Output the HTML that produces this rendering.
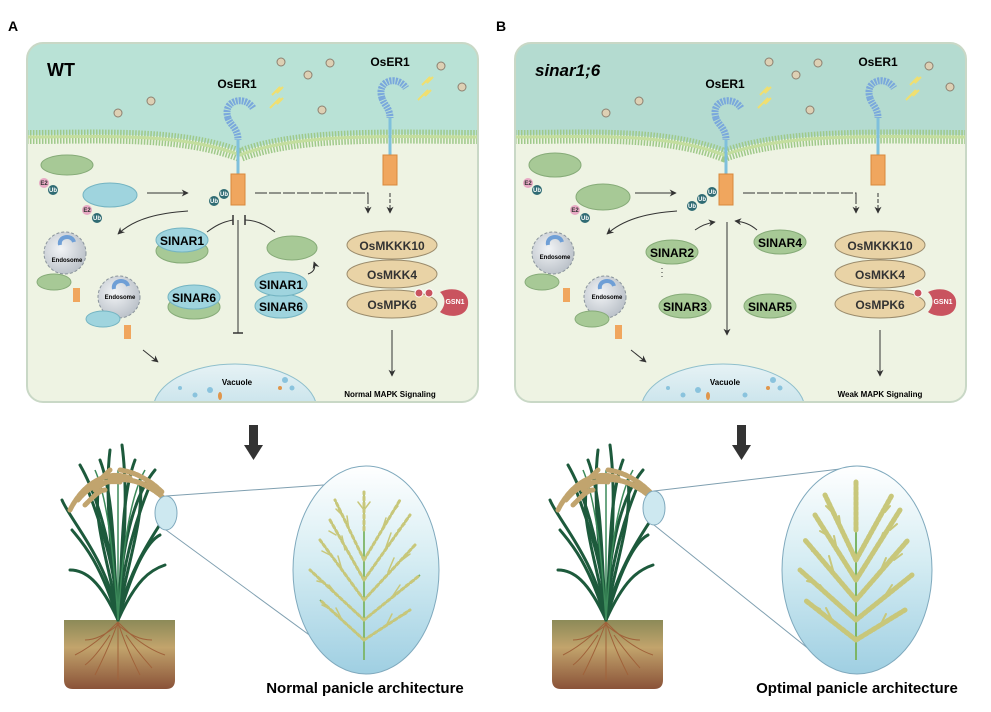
<!DOCTYPE html>
<html><head><meta charset="utf-8"><style>
html,body{margin:0;padding:0;background:#fff;}
svg{display:block;font-family:"Liberation Sans",Arial,sans-serif;}
.b{font-weight:bold;}
</style></head><body>
<svg width="991" height="712" viewBox="0 0 991 712" xmlns="http://www.w3.org/2000/svg">
<defs>
<marker id="ar" viewBox="0 0 10 10" refX="9" refY="5" markerWidth="7" markerHeight="7" orient="auto"><path d="M0,0 L10,5 L0,10 L3,5z" fill="#333"/></marker>
<linearGradient id="soil" x1="0" y1="0" x2="0" y2="1"><stop offset="0" stop-color="#8c8a58"/><stop offset="0.4" stop-color="#c2a46c"/><stop offset="1" stop-color="#8a5238"/></linearGradient>
<linearGradient id="lens" x1="0" y1="0" x2="0" y2="1"><stop offset="0" stop-color="#ffffff"/><stop offset="0.45" stop-color="#d6edf3"/><stop offset="1" stop-color="#9fcfe2"/></linearGradient>
<radialGradient id="endo" cx="0.4" cy="0.4" r="0.7"><stop offset="0" stop-color="#f2f4f6"/><stop offset="1" stop-color="#b5bcc4"/></radialGradient>
<linearGradient id="vac" x1="0" y1="0" x2="0" y2="1"><stop offset="0" stop-color="#e6f2f5"/><stop offset="1" stop-color="#a8d3e0"/></linearGradient>
<clipPath id="cA"><rect x="27" y="43" width="451" height="359" rx="16"/></clipPath>
<clipPath id="cB"><rect x="515" y="43" width="451" height="359" rx="16"/></clipPath>
<g id="plant">
<path d="M64,620 H175 V680 Q175,689 166,689 H73 Q64,689 64,680Z" fill="url(#soil)"/>
<g stroke="#a0623a" stroke-width="1" fill="none"><path d="M118,622 C100,640 85,650 75,655"/><path d="M118,622 C135,640 150,650 165,655"/><path d="M118,622 C110,645 100,665 95,675"/><path d="M118,622 C125,645 135,665 140,675"/><path d="M118,622 V680"/><path d="M118,625 C105,635 95,640 85,640"/><path d="M118,625 C130,635 140,640 152,640"/><path d="M110,635 C100,650 92,660 85,665"/><path d="M126,635 C136,650 145,660 152,668"/></g>
<g stroke="#1d5a3c" stroke-width="3" fill="none" stroke-linecap="round">
<path d="M118,620 C115,560 100,500 80,465"/><path d="M118,620 C120,560 130,500 155,470"/><path d="M118,620 C110,540 105,490 110,450"/><path d="M118,620 C125,540 128,490 122,445"/><path d="M118,620 C100,560 80,540 72,530"/><path d="M118,620 C135,560 150,540 160,535"/><path d="M118,620 C112,570 90,520 100,480"/><path d="M118,620 C125,570 145,520 140,480"/>
<path d="M118,620 C108,560 70,520 62,500"/><path d="M118,620 C130,560 165,520 172,505"/><path d="M118,620 C113,560 115,500 100,460"/><path d="M118,620 C123,560 120,500 135,460"/><path d="M118,620 C100,580 85,570 70,570"/><path d="M118,620 C136,580 150,570 165,565"/><path d="M118,620 C116,560 95,510 88,490"/><path d="M118,620 C122,560 140,510 148,490"/></g>
<g stroke="#3c8a5a" stroke-width="1.5" fill="none"><path d="M118,620 C114,560 108,500 95,470"/><path d="M118,620 C122,560 128,500 145,470"/><path d="M118,620 V470"/></g>
<g stroke="#c1a46e" stroke-width="5" fill="none" stroke-linecap="round" stroke-dasharray="4 1.5">
<path d="M70,510 C85,480 110,470 130,478"/><path d="M95,490 C110,475 135,475 160,495"/><path d="M80,495 C95,485 100,480 110,470"/><path d="M78,500 C90,485 105,480 120,482"/><path d="M110,480 C130,478 150,482 165,500"/><path d="M85,505 C95,495 100,490 105,490"/><path d="M120,470 C135,472 150,480 162,492"/></g>
</g>
</defs>

<text x="8" y="31" class="b" font-size="14">A</text>
<text x="496" y="31" class="b" font-size="14">B</text>

<!-- ========== PANEL A ========== -->
<g clip-path="url(#cA)">
<rect x="27" y="43" width="451" height="359" fill="#eef3e3"/>
<path d="M27,43 H478 V135 C400,135 300,130 240,152 C180,130 100,135 27,135 Z" fill="#b9e2d6"/>
<path d="M27,137 C100,137 180,132 240,155 C300,132 400,137 478,137" fill="none" stroke="#9fc98a" stroke-width="14" stroke-dasharray="1.5 1.5"/>
<path d="M27,137 C100,137 180,132 240,155 C300,132 400,137 478,137" fill="none" stroke="#c4de9f" stroke-width="3"/>
<ellipse cx="235" cy="410" rx="82" ry="46" fill="url(#vac)" stroke="#8fbfcc"/>
</g>
<rect x="27" y="43" width="451" height="359" rx="16" fill="none" stroke="#c9d8c6" stroke-width="2"/>
<text x="47" y="76" class="b" font-size="18">WT</text>
<text x="237" y="88" class="b" font-size="12" text-anchor="middle">OsER1</text>
<text x="390" y="66" class="b" font-size="12" text-anchor="middle">OsER1</text>
<g fill="#ddd0b4" stroke="#8c8070" stroke-width="1">
<circle cx="281" cy="62" r="4"/><circle cx="330" cy="63" r="4"/><circle cx="308" cy="75" r="4"/><circle cx="151" cy="101" r="4"/><circle cx="118" cy="113" r="4"/><circle cx="322" cy="110" r="4"/><circle cx="441" cy="66" r="4"/><circle cx="462" cy="87" r="4"/>
</g>
<g stroke="#f0df70" stroke-width="2" fill="none"><path d="M272,95 l8,-8 -3,6 6,-6"/><path d="M270,108 l10,-10 -3,6 6,-6"/><path d="M422,85 l8,-8 -3,6 6,-6"/><path d="M418,100 l10,-10 -3,6 6,-6"/></g>
<path d="M228,118 C222,100 245,95 253,108" fill="none" stroke="#7aa8dc" stroke-width="7" stroke-dasharray="2 1"/>
<path d="M228,118 C230,125 238,128 238,140" fill="none" stroke="#7aa8dc" stroke-width="7" stroke-dasharray="2 1"/>
<line x1="238" y1="140" x2="238" y2="175" stroke="#7fc0dc" stroke-width="3"/>
<rect x="231" y="174" width="14" height="31" fill="#f0a65e" stroke="#d8883c"/>
<path d="M382,98 C376,80 398,75 406,88" fill="none" stroke="#7aa8dc" stroke-width="7" stroke-dasharray="2 1"/>
<path d="M382,98 C384,105 390,108 390,118" fill="none" stroke="#7aa8dc" stroke-width="7" stroke-dasharray="2 1"/>
<line x1="390" y1="118" x2="390" y2="155" stroke="#7fc0dc" stroke-width="3"/>
<rect x="383" y="155" width="14" height="30" fill="#f0a65e" stroke="#d8883c"/>
<g font-size="6" class="b" fill="#fff" text-anchor="middle">
<circle cx="224" cy="194" r="5" fill="#2f6b73"/><text x="224" y="196">Ub</text>
<circle cx="214" cy="201" r="5" fill="#2f6b73"/><text x="214" y="203">Ub</text>
<circle cx="44" cy="183" r="5" fill="#e8a9c4"/><text x="44" y="185" fill="#333">E2</text>
<circle cx="53" cy="190" r="5" fill="#2f6b73"/><text x="53" y="192">Ub</text>
<circle cx="87" cy="210" r="5" fill="#e8a9c4"/><text x="87" y="212" fill="#333">E2</text>
<circle cx="97" cy="218" r="5" fill="#2f6b73"/><text x="97" y="220">Ub</text>
</g>
<ellipse cx="67" cy="165" rx="26" ry="10" fill="#a7c996" stroke="#86ab78"/>
<ellipse cx="110" cy="195" rx="27" ry="12" fill="#9fd4de" stroke="#74b4c2"/>
<line x1="147" y1="193" x2="188" y2="193" stroke="#333" marker-end="url(#ar)"/>
<path d="M188,211 C160,213 135,218 118,234" fill="none" stroke="#333" marker-end="url(#ar)"/>
<circle cx="65" cy="253" r="21" fill="url(#endo)" stroke="#8a949c" stroke-dasharray="3 2"/>
<path d="M60,245 C58,236 72,234 74,242" fill="none" stroke="#6f9fd6" stroke-width="4"/>
<text x="67" y="262" font-size="6" class="b" text-anchor="middle">Endosome</text>
<ellipse cx="54" cy="282" rx="17" ry="8" fill="#a7c996" stroke="#86ab78"/>
<rect x="73" y="288" width="7" height="14" fill="#f0a65e"/>
<circle cx="119" cy="297" r="21" fill="url(#endo)" stroke="#8a949c" stroke-dasharray="3 2"/>
<path d="M114,289 C112,280 126,278 128,286" fill="none" stroke="#6f9fd6" stroke-width="4"/>
<text x="120" y="299" font-size="6" class="b" text-anchor="middle">Endosome</text>
<ellipse cx="103" cy="319" rx="17" ry="8" fill="#9fd4de" stroke="#74b4c2"/>
<rect x="124" y="325" width="7" height="14" fill="#f0a65e"/>
<line x1="143" y1="350" x2="158" y2="362" stroke="#333" marker-end="url(#ar)"/>
<ellipse cx="182" cy="251" rx="26" ry="12" fill="#a7c996" stroke="#86ab78"/>
<ellipse cx="182" cy="240" rx="26" ry="12" fill="#9fd4de" stroke="#74b4c2"/>
<text x="182" y="245" class="b" font-size="12" text-anchor="middle">SINAR1</text>
<ellipse cx="194" cy="307" rx="26" ry="12" fill="#a7c996" stroke="#86ab78"/>
<ellipse cx="194" cy="297" rx="26" ry="12" fill="#9fd4de" stroke="#74b4c2"/>
<text x="194" y="302" class="b" font-size="12" text-anchor="middle">SINAR6</text>
<ellipse cx="281" cy="306" rx="26" ry="12" fill="#9fd4de" stroke="#74b4c2"/>
<text x="281" y="311" class="b" font-size="12" text-anchor="middle">SINAR6</text>
<ellipse cx="281" cy="284" rx="26" ry="12" fill="#9fd4de" stroke="#74b4c2"/>
<text x="281" y="289" class="b" font-size="12" text-anchor="middle">SINAR1</text>
<ellipse cx="292" cy="248" rx="25" ry="12" fill="#a7c996" stroke="#86ab78"/>
<path d="M308,274 C314,272 316,268 314,262" fill="none" stroke="#333" marker-end="url(#ar)"/>
<path d="M207,232 C215,226 222,222 233,220" fill="none" stroke="#333"/>
<line x1="233" y1="215" x2="233" y2="225" stroke="#333" stroke-width="1.5"/>
<path d="M275,232 C265,224 255,220 245,220" fill="none" stroke="#333"/>
<line x1="245" y1="215" x2="245" y2="225" stroke="#333" stroke-width="1.5"/>
<line x1="238" y1="220" x2="238" y2="333" stroke="#333"/>
<line x1="233" y1="333" x2="243" y2="333" stroke="#333" stroke-width="1.5"/>
<path d="M255,193 H368 V213" fill="none" stroke="#333" stroke-dasharray="12 2" marker-end="url(#ar)"/>
<line x1="390" y1="193" x2="390" y2="213" stroke="#333" stroke-dasharray="4 2" marker-end="url(#ar)"/>
<g stroke="#9a8b6c" fill="#e9d3a6">
<ellipse cx="392" cy="245" rx="45" ry="14"/><ellipse cx="392" cy="274" rx="45" ry="14"/><ellipse cx="392" cy="304" rx="45" ry="14"/></g>
<path d="M440,292 C455,285 470,292 468,305 C466,318 448,318 440,312 C446,305 446,298 440,292z" fill="#c9535f"/>
<text x="455" y="304" font-size="7" class="b" fill="#fff" text-anchor="middle">GSN1</text>
<circle cx="419" cy="293" r="4" fill="#c9535f" stroke="#fff"/><circle cx="429" cy="293" r="4" fill="#c9535f" stroke="#fff"/>
<text x="392" y="250" class="b" font-size="12" text-anchor="middle" fill="#333">OsMKKK10</text>
<text x="392" y="279" class="b" font-size="12" text-anchor="middle" fill="#333">OsMKK4</text>
<text x="392" y="309" class="b" font-size="12" text-anchor="middle" fill="#333">OsMPK6</text>
<line x1="392" y1="330" x2="392" y2="376" stroke="#333" marker-end="url(#ar)"/>
<text x="390" y="397" class="b" font-size="8" text-anchor="middle">Normal MAPK Signaling</text>
<text x="237" y="385" class="b" font-size="8" text-anchor="middle">Vacuole</text>
<g fill="#8ac3dd"><circle cx="210" cy="390" r="3"/><circle cx="195" cy="395" r="2.5"/><circle cx="285" cy="380" r="3"/><circle cx="292" cy="388" r="2.5"/><circle cx="180" cy="388" r="2"/></g>
<g fill="#e0964c"><ellipse cx="220" cy="396" rx="2" ry="4"/><circle cx="280" cy="388" r="2"/></g>

<!-- ========== PANEL B ========== -->
<g clip-path="url(#cB)">
<rect x="515" y="43" width="451" height="359" fill="#eef3e3"/>
<path d="M515,43 H966 V135 C888,135 788,130 724,152 C664,130 588,135 515,135 Z" fill="#b4dbd0"/>
<path d="M515,137 C588,137 664,132 724,155 C788,132 888,137 966,137" fill="none" stroke="#9fc98a" stroke-width="14" stroke-dasharray="1.5 1.5"/>
<path d="M515,137 C588,137 664,132 724,155 C788,132 888,137 966,137" fill="none" stroke="#c4de9f" stroke-width="3"/>
<ellipse cx="723" cy="410" rx="82" ry="46" fill="url(#vac)" stroke="#8fbfcc"/>
</g>
<rect x="515" y="43" width="451" height="359" rx="16" fill="none" stroke="#c9d8c6" stroke-width="2"/>
<text x="535" y="76" class="b" font-size="17" font-style="italic">sinar1;6</text>
<text x="725" y="88" class="b" font-size="12" text-anchor="middle">OsER1</text>
<text x="878" y="66" class="b" font-size="12" text-anchor="middle">OsER1</text>
<g fill="#ddd0b4" stroke="#8c8070" stroke-width="1">
<circle cx="769" cy="62" r="4"/><circle cx="818" cy="63" r="4"/><circle cx="796" cy="75" r="4"/><circle cx="639" cy="101" r="4"/><circle cx="606" cy="113" r="4"/><circle cx="810" cy="110" r="4"/><circle cx="929" cy="66" r="4"/><circle cx="950" cy="87" r="4"/>
</g>
<g stroke="#f0df70" stroke-width="2" fill="none"><path d="M760,95 l8,-8 -3,6 6,-6"/><path d="M758,108 l10,-10 -3,6 6,-6"/><path d="M910,85 l8,-8 -3,6 6,-6"/><path d="M906,100 l10,-10 -3,6 6,-6"/></g>
<path d="M716,118 C710,100 733,95 741,108" fill="none" stroke="#7aa8dc" stroke-width="7" stroke-dasharray="2 1"/>
<path d="M716,118 C718,125 726,128 726,140" fill="none" stroke="#7aa8dc" stroke-width="7" stroke-dasharray="2 1"/>
<line x1="726" y1="140" x2="726" y2="175" stroke="#7fc0dc" stroke-width="3"/>
<rect x="719" y="174" width="14" height="31" fill="#f0a65e" stroke="#d8883c"/>
<path d="M870,98 C864,80 886,75 894,88" fill="none" stroke="#7aa8dc" stroke-width="7" stroke-dasharray="2 1"/>
<path d="M870,98 C872,105 878,108 878,118" fill="none" stroke="#7aa8dc" stroke-width="7" stroke-dasharray="2 1"/>
<line x1="878" y1="118" x2="878" y2="155" stroke="#7fc0dc" stroke-width="3"/>
<rect x="871" y="155" width="14" height="30" fill="#f0a65e" stroke="#d8883c"/>
<g font-size="6" class="b" fill="#fff" text-anchor="middle">
<circle cx="712" cy="192" r="5" fill="#2f6b73"/><text x="712" y="194">Ub</text>
<circle cx="702" cy="199" r="5" fill="#2f6b73"/><text x="702" y="201">Ub</text>
<circle cx="692" cy="206" r="5" fill="#2f6b73"/><text x="692" y="208">Ub</text>
<circle cx="528" cy="183" r="5" fill="#e8a9c4"/><text x="528" y="185" fill="#333">E2</text>
<circle cx="537" cy="190" r="5" fill="#2f6b73"/><text x="537" y="192">Ub</text>
<circle cx="575" cy="210" r="5" fill="#e8a9c4"/><text x="575" y="212" fill="#333">E2</text>
<circle cx="585" cy="218" r="5" fill="#2f6b73"/><text x="585" y="220">Ub</text>
</g>
<ellipse cx="555" cy="165" rx="26" ry="12" fill="#a7c996" stroke="#86ab78"/>
<ellipse cx="603" cy="197" rx="27" ry="13" fill="#a7c996" stroke="#86ab78"/>
<line x1="635" y1="193" x2="676" y2="193" stroke="#333" marker-end="url(#ar)"/>
<path d="M677,211 C650,213 625,218 607,234" fill="none" stroke="#333" marker-end="url(#ar)"/>
<circle cx="553" cy="253" r="21" fill="url(#endo)" stroke="#8a949c" stroke-dasharray="3 2"/>
<path d="M548,245 C546,236 560,234 562,242" fill="none" stroke="#6f9fd6" stroke-width="4"/>
<text x="555" y="259" font-size="6" class="b" text-anchor="middle">Endosome</text>
<ellipse cx="542" cy="282" rx="17" ry="8" fill="#a7c996" stroke="#86ab78"/>
<rect x="563" y="288" width="7" height="14" fill="#f0a65e"/>
<circle cx="605" cy="297" r="21" fill="url(#endo)" stroke="#8a949c" stroke-dasharray="3 2"/>
<path d="M600,289 C598,280 612,278 614,286" fill="none" stroke="#6f9fd6" stroke-width="4"/>
<text x="607" y="299" font-size="6" class="b" text-anchor="middle">Endosome</text>
<ellipse cx="592" cy="319" rx="17" ry="8" fill="#a7c996" stroke="#86ab78"/>
<rect x="615" y="325" width="7" height="14" fill="#f0a65e"/>
<line x1="631" y1="350" x2="646" y2="362" stroke="#333" marker-end="url(#ar)"/>
<g fill="#a7c996" stroke="#86ab78">
<ellipse cx="672" cy="252" rx="26" ry="12"/><ellipse cx="780" cy="242" rx="26" ry="12"/><ellipse cx="685" cy="306" rx="26" ry="12"/><ellipse cx="770" cy="306" rx="26" ry="12"/></g>
<g class="b" font-size="12" text-anchor="middle">
<text x="672" y="257">SINAR2</text><text x="780" y="247">SINAR4</text><text x="685" y="311">SINAR3</text><text x="770" y="311">SINAR5</text></g>
<line x1="662" y1="268" x2="662" y2="278" stroke="#333" stroke-dasharray="1 3"/>
<path d="M695,230 C702,225 708,223 715,222" fill="none" stroke="#333" marker-end="url(#ar)"/>
<path d="M757,230 C750,224 744,222 735,221" fill="none" stroke="#333" marker-end="url(#ar)"/>
<line x1="727" y1="222" x2="727" y2="335" stroke="#333" marker-end="url(#ar)"/>
<path d="M743,193 H856 V213" fill="none" stroke="#333" stroke-dasharray="12 2" marker-end="url(#ar)"/>
<line x1="878" y1="193" x2="878" y2="213" stroke="#333" stroke-dasharray="4 2" marker-end="url(#ar)"/>
<g stroke="#9a8b6c" fill="#e9d3a6">
<ellipse cx="880" cy="245" rx="45" ry="14"/><ellipse cx="880" cy="274" rx="45" ry="14"/><ellipse cx="880" cy="304" rx="45" ry="14"/></g>
<path d="M928,292 C943,285 958,292 956,305 C954,318 936,318 928,312 C934,305 934,298 928,292z" fill="#c9535f"/>
<text x="943" y="304" font-size="7" class="b" fill="#fff" text-anchor="middle">GSN1</text>
<circle cx="918" cy="293" r="4" fill="#c9535f" stroke="#fff"/>
<text x="880" y="250" class="b" font-size="12" text-anchor="middle" fill="#333">OsMKKK10</text>
<text x="880" y="279" class="b" font-size="12" text-anchor="middle" fill="#333">OsMKK4</text>
<text x="880" y="309" class="b" font-size="12" text-anchor="middle" fill="#333">OsMPK6</text>
<line x1="880" y1="330" x2="880" y2="376" stroke="#333" marker-end="url(#ar)"/>
<text x="880" y="397" class="b" font-size="8" text-anchor="middle">Weak MAPK Signaling</text>
<text x="725" y="385" class="b" font-size="8" text-anchor="middle">Vacuole</text>
<g fill="#8ac3dd"><circle cx="698" cy="390" r="3"/><circle cx="683" cy="395" r="2.5"/><circle cx="773" cy="380" r="3"/><circle cx="780" cy="388" r="2.5"/><circle cx="668" cy="388" r="2"/><circle cx="745" cy="395" r="2.5"/></g>
<g fill="#e0964c"><ellipse cx="708" cy="396" rx="2" ry="4"/><circle cx="768" cy="388" r="2"/></g>

<!-- ========== BOTTOM ========== -->
<g fill="#333"><rect x="249" y="425" width="9" height="22"/><path d="M244,445 H263 L253.5,460z"/>
<rect x="737" y="425" width="9" height="22"/><path d="M732,445 H751 L741.5,460z"/></g>

<use href="#plant"/>
<ellipse cx="166" cy="513" rx="11" ry="17" fill="#cde8f0" stroke="#7fa9bd"/>
<line x1="166" y1="496" x2="366" y2="482" stroke="#7f9fb0"/>
<line x1="166" y1="530" x2="323" y2="645" stroke="#7f9fb0"/>
<ellipse cx="366" cy="570" rx="73" ry="104" fill="url(#lens)" stroke="#7fa9bd"/>
<g stroke="#7cb566" stroke-width="1.8" fill="none">
<path d="M364,660 V492"/><path d="M364,640 L320,600 M364,620 L310,570 M364,600 L320,540 M364,580 L330,520 M364,560 L335,500 M364,640 L410,610 M364,620 L420,575 M364,600 L415,545 M364,580 L410,515 M364,560 L400,500"/></g>
<g stroke="#c8c77a" stroke-width="1.5" fill="none" stroke-linecap="round">
<path d="M342,620 l-6,-12 M330,609 l-8,-4 M337,595 l-8,-10 M325,583 l-8,-2 M342,570 l-4,-14 M330,555 l-8,-4 M345,550 l-3,-14 M336,535 l-7,-4 M349,530 l-2,-14 M342,515 l-6,-6 M386,626 l6,-12 M398,618 l8,-4 M392,597 l8,-12 M406,585 l8,-4 M388,572 l6,-14 M402,560 l8,-6 M386,547 l5,-14 M398,530 l7,-6 M382,530 l4,-12 M393,512 l5,-6 M364,510 l-6,-8 M364,510 l6,-8"/></g>
<g stroke="#c8c77a" stroke-width="3" fill="none" stroke-linecap="round" stroke-dasharray="3 3">
<path d="M364,640 L320,600 M364,620 L310,570 M364,600 L320,540 M364,580 L330,520 M364,560 L335,500 M364,640 L410,610 M364,620 L420,575 M364,600 L415,545 M364,580 L410,515 M364,560 L400,500 M364,530 V492"/></g>
<text x="365" y="693" class="b" font-size="15" text-anchor="middle">Normal panicle architecture</text>

<use href="#plant" transform="translate(488,0)"/>
<ellipse cx="654" cy="508" rx="11" ry="17" fill="#cde8f0" stroke="#7fa9bd"/>
<line x1="654" y1="491" x2="857" y2="467" stroke="#7f9fb0"/>
<line x1="654" y1="525" x2="810" y2="650" stroke="#7f9fb0"/>
<ellipse cx="857" cy="570" rx="75" ry="104" fill="url(#lens)" stroke="#7fa9bd"/>
<g stroke="#7cb566" stroke-width="2" fill="none">
<path d="M856,660 V480"/><path d="M856,640 L805,600 M856,620 L800,570 M856,600 L805,540 M856,580 L815,515 M856,560 L825,495 M856,640 L905,610 M856,620 L912,575 M856,600 L908,540 M856,580 L900,510 M856,560 L892,495"/></g>
<g stroke="#c8c77a" stroke-width="2" fill="none" stroke-linecap="round">
<path d="M832,620 l-6,-12 M820,609 l-8,-4 M828,595 l-8,-10 M815,583 l-8,-2 M833,570 l-4,-14 M820,555 l-8,-4 M837,550 l-3,-14 M827,535 l-7,-4 M841,530 l-2,-14 M832,512 l-6,-6 M880,626 l6,-12 M892,618 l8,-4 M884,597 l8,-12 M898,585 l8,-4 M880,572 l6,-14 M894,560 l8,-6 M878,547 l5,-14 M890,530 l7,-6 M874,530 l4,-12 M885,512 l5,-6"/></g>
<g stroke="#c8c77a" stroke-width="5" fill="none" stroke-linecap="round" stroke-dasharray="3 2">
<path d="M856,640 L805,600 M856,620 L800,570 M856,600 L805,540 M856,580 L815,515 M856,560 L825,495 M856,640 L905,610 M856,620 L912,575 M856,600 L908,540 M856,580 L900,510 M856,560 L892,495 M856,530 V482"/></g>
<text x="857" y="693" class="b" font-size="15" text-anchor="middle">Optimal panicle architecture</text>
</svg>
</body></html>
